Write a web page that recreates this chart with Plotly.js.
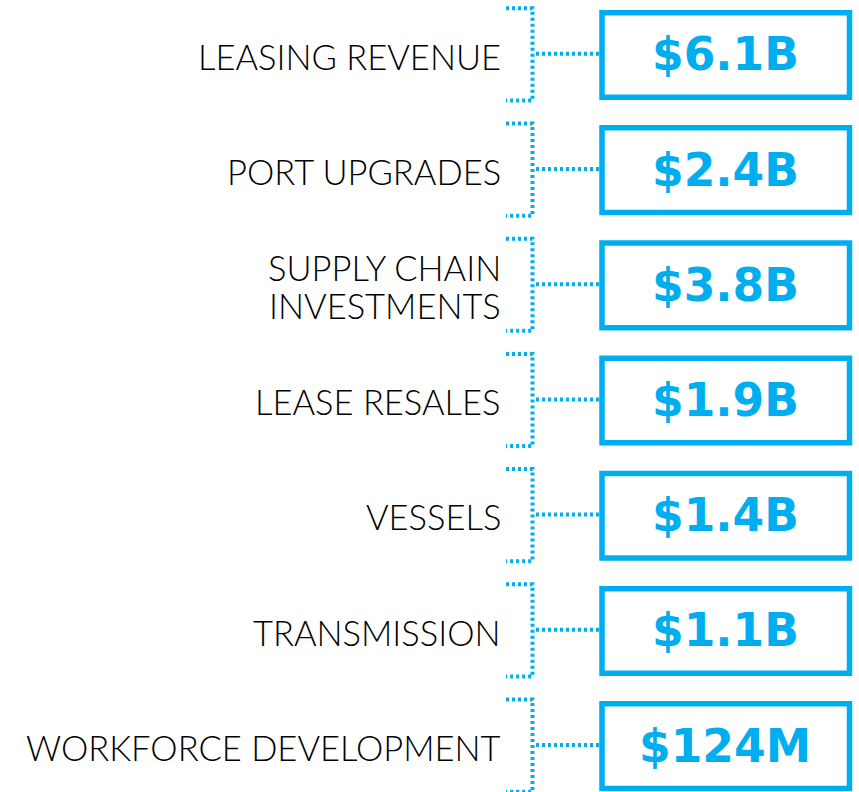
<!DOCTYPE html>
<html>
<head>
<meta charset="utf-8">
<script src="https://cdn.plot.ly/plotly-3.0.1.min.js"></script>
<style>html,body{margin:0;padding:0;background:#fff;}#chart{width:859px;height:792px;}</style>
</head>
<body>
<div id="chart"></div>
<script>
// Data
var categories = ["LEASING REVENUE", "PORT UPGRADES", "SUPPLY CHAIN<br>INVESTMENTS", "LEASE RESALES", "VESSELS", "TRANSMISSION", "WORKFORCE DEVELOPMENT"];
var valuesBillions = [6.1, 2.4, 3.8, 1.9, 1.4, 1.1, 0.124];
var valueLabels = ["$6.1B", "$2.4B", "$3.8B", "$1.9B", "$1.4B", "$1.1B", "$124M"];

var BLUE = "#00AEEF";
var rows = categories.map(function(_, i){ return i; });

var shapes = [];
var annotations = [];
rows.forEach(function(i){
  shapes.push({type:"path", xref:"x", yref:"y",
    path:"M506," + (i-0.405) + " L532.5," + (i-0.405) + " L532.5," + (i+0.395) + " L506," + (i+0.395),
    line:{color:BLUE, width:4, dash:"3px,3px"}});
  shapes.push({type:"line", xref:"x", yref:"y", x0:536, x1:600, y0:i-0.01, y1:i-0.01,
    line:{color:BLUE, width:4, dash:"3px,3px"}});
  shapes.push({type:"rect", xref:"x", yref:"y", x0:602, x1:849.5, y0:i-0.367, y1:i+0.367,
    line:{color:BLUE, width:5.5}, fillcolor:"rgba(0,0,0,0)"});
  var lines = categories[i].split("<br>");
  var pitch = 0.33; // line spacing in row units
  lines.forEach(function(txt, k){
    var off = (k - (lines.length - 1) / 2) * pitch;
    annotations.push({x:503, y:i + off + 0.01, xref:"x", yref:"y", text:txt, showarrow:false,
      xanchor:"right", yanchor:"middle", align:"right",
      font:{family:"Lato, sans-serif", size:34.5, weight:300, color:"#000"}});
  });
  annotations.push({x:725, y:i, xref:"x", yref:"y", text:valueLabels[i], showarrow:false,
    xanchor:"center", yanchor:"middle",
    font:{family:"DejaVu Sans, sans-serif", size:45.5, weight:700, color:BLUE}});
});

var trace = {x: rows.map(function(){return 725;}), y: rows, customdata: valuesBillions,
  type:"scatter", mode:"markers", marker:{opacity:0}, hoverinfo:"skip", showlegend:false};

var layout = {
  width:859, height:792,
  margin:{l:0, r:0, t:0, b:0},
  paper_bgcolor:"#fff", plot_bgcolor:"#fff",
  xaxis:{range:[0,859], visible:false, fixedrange:true},
  yaxis:{range:[6.398, -0.477], visible:false, fixedrange:true},
  shapes:shapes, annotations:annotations, showlegend:false
};
Plotly.newPlot("chart", [trace], layout, {displayModeBar:false, staticPlot:true});
</script>
</body>
</html>
